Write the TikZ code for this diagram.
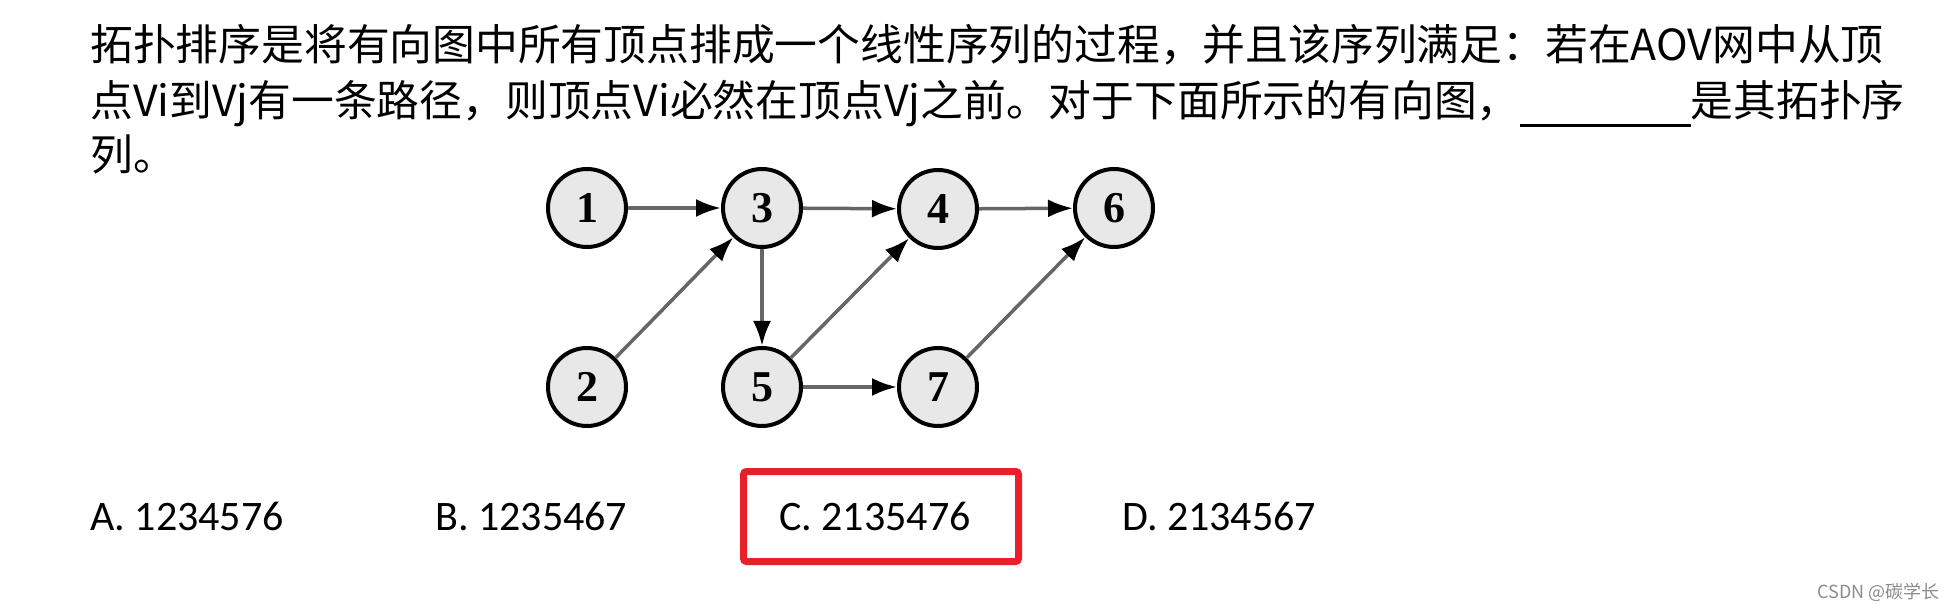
\documentclass[tikz,border=0pt]{standalone}
\usepackage{fontspec}
\setmainfont{Carlito}
\newfontfamily\cjk{Noto Sans CJK SC}
\newfontfamily\numfont{Liberation Serif}
\usetikzlibrary{arrows.meta}
\newcommand\myblank{\rule[-10pt]{171pt}{2.5pt}}
\definecolor{boxred}{RGB}{232,32,42}
\begin{document}
\begin{tikzpicture}[x=1pt,y=-1pt,
  vtx/.style={circle, draw=black, line width=4pt, fill=black!9, minimum size=78pt, inner sep=0pt,
    font=\numfont\bfseries\fontsize{44}{44}\selectfont},
  edgeln/.style={line width=3.5pt, draw=black!60, -{Latex[length=25pt,width=18pt,black]}},
  qtext/.style={anchor=base west, inner sep=0pt, font=\cjk\fontsize{42.8}{50}\selectfont},
  opt/.style={anchor=base west, inner sep=0pt, font=\fontsize{42}{50}\selectfont},
]
\useasboundingbox[fill=white] (0,0) rectangle (1955,609);
% question text
\node[qtext] (l1) at (90,61) {拓扑排序是将有向图中所有顶点排成一个线性序列的过程，并且该序列满足：若在AOV网中从顶};
\node[qtext] (l2) at (90,117) {点Vi到Vj有一条路径，则顶点Vi必然在顶点Vj之前。对于下面所示的有向图，\myblank 是其拓扑序};
\node[qtext] (l3) at (90,171) {列。};
% graph
\node[vtx] (n1) at (587,208) {1};
\node[vtx] (n3) at (762,208) {3};
\node[vtx] (n4) at (938,209) {4};
\node[vtx] (n6) at (1114,208) {6};
\node[vtx] (n2) at (587,387) {2};
\node[vtx] (n5) at (762,387) {5};
\node[vtx] (n7) at (938,387) {7};
\draw[edgeln] (n1) -- (n3);
\draw[edgeln] (n3) -- (n4);
\draw[edgeln] (n4) -- (n6);
\draw[edgeln] (n2) -- (n3);
\draw[edgeln] (n3) -- (n5);
\draw[edgeln] (n5) -- (n4);
\draw[edgeln] (n5) -- (n7);
\draw[edgeln] (n7) -- (n6);
% options
\node[opt] (oA) at (90,530) {A. 1234576};
\node[opt] (oB) at (435,530) {B. 1235467};
\node[opt] (oC) at (779,530) {C. 2135476};
\node[opt] (oD) at (1122,530) {D. 2134567};
\node[draw=boxred, line width=7pt, rounded corners=3pt, minimum width=275pt, minimum height=90pt, inner sep=0pt] (box) at (881,516.5) {};
% watermark
\node[anchor=base east, inner sep=0pt, text=black!45, font=\cjk\fontsize{18}{18}\selectfont] (wm) at (1940,598) {CSDN @碳学长};
\end{tikzpicture}
\end{document}
